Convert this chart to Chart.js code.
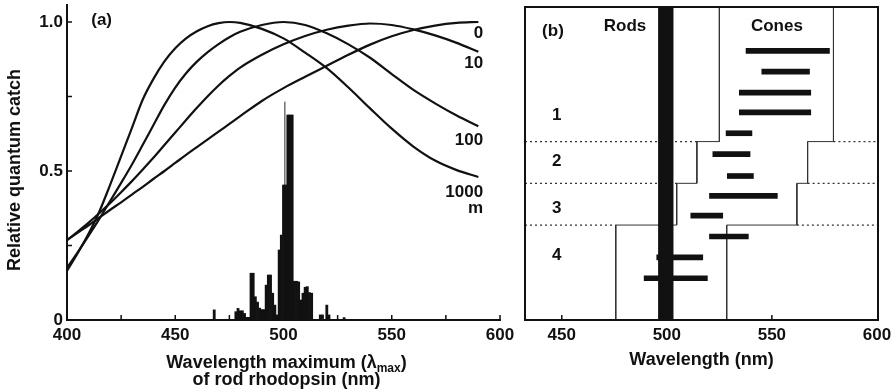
<!DOCTYPE html>
<html>
<head>
<meta charset="utf-8">
<script src="https://cdn.jsdelivr.net/npm/chart.js@4.4.0/dist/chart.umd.min.js"></script>
<style>
  body { margin: 0; background: #fff; }
  #wrapA { position: absolute; left: 0; top: 0; width: 530px; height: 392px; }
  #wrapB { position: absolute; left: 505px; top: 0; width: 390px; height: 392px; }
</style>
</head>
<body>
<div id="wrapA"><canvas id="chartA"></canvas></div>
<div id="wrapB"><canvas id="chartB"></canvas></div>
<script>
// ---- Panel (a): relative quantum catch vs rhodopsin lambda max, per depth ----
const curveNm = [400, 405, 410, 415, 420, 425, 430, 435, 440, 445, 450, 455, 460, 465,
                 470, 475, 480, 490, 500, 510, 520, 530, 540, 550, 560, 570, 580, 590];
const catch0m = [0.268, 0.293, 0.318, 0.344, 0.37, 0.395, 0.421, 0.447, 0.474, 0.5, 0.527, 0.554, 0.58, 0.606,
                 0.632, 0.658, 0.684, 0.735, 0.778, 0.816, 0.853, 0.89, 0.924, 0.952, 0.973, 0.988, 0.997, 1.0];
const catch10m = [0.268, 0.297, 0.327, 0.359, 0.393, 0.429, 0.466, 0.505, 0.545, 0.587, 0.629, 0.671, 0.712, 0.751,
                  0.787, 0.819, 0.847, 0.89, 0.925, 0.953, 0.974, 0.988, 0.995, 0.99, 0.975, 0.955, 0.93, 0.9];
const catch100m = [0.175, 0.228, 0.283, 0.34, 0.40, 0.46, 0.522, 0.588, 0.655, 0.722, 0.78, 0.828, 0.867, 0.899,
                   0.926, 0.949, 0.967, 0.99, 1.0, 0.99, 0.962, 0.925, 0.88, 0.825, 0.772, 0.727, 0.686, 0.65];
const catch1000m = [0.165, 0.225, 0.29, 0.365, 0.455, 0.55, 0.645, 0.74, 0.81, 0.868, 0.912, 0.945, 0.969, 0.986,
                    0.996, 1.0, 0.997, 0.977, 0.945, 0.897, 0.845, 0.78, 0.71, 0.642, 0.582, 0.535, 0.503, 0.48];

// histogram of rod lambda max (1 nm bins, scaled to the same axis)
const histNm = [468, 478, 479, 480, 481, 482, 483, 484, 485, 486, 487, 488, 489, 490, 491, 492, 493, 494,
                495, 496, 497, 498, 499, 500, 501, 502, 503, 504, 505, 506, 507, 508, 509, 510, 511, 512,
                513, 517, 518, 520, 521, 528];
const histValue = [0.034, 0.028, 0.039, 0.031, 0.031, 0.022, 0.009, 0.009, 0.157, 0.157, 0.078, 0.06, 0.04,
                   0.035, 0.035, 0.117, 0.151, 0.151, 0.09, 0.05, 0.017, 0.235, 0.285, 0.453, 0.453, 0.688,
                   0.688, 0.688, 0.13, 0.13, 0.128, 0.067, 0.09, 0.11, 0.112, 0.092, 0.09, 0.017, 0.017,
                   0.05, 0.017, 0.008];
// the thin open bar standing above the main peak
const openBarNm = [501];
const openBarValue = [0.733];

const depthLabels = ['0', '10', '100', '1000', 'm'];
const yTickValues = [0, 0.5, 1.0];

// ---- Panel (b): rod band and cone lambda max ranges, four groups ----
const rodRange = [496, 503];
const coneRows = [12.9, 11.9, 10.9, 9.95, 8.95, 7.95, 6.9, 5.95, 5.0, 4.0, 3.0, 2.0];
const coneStart = [537.7, 545.2, 534.5, 534.5, 528.2, 521.9, 528.8, 520.3, 511.4, 520.3, 495.2, 489.2];
const coneEnd = [577.4, 567.9, 568.5, 568.5, 540.5, 539.6, 541.2, 552.6, 526.6, 538.8, 517.1, 519.3];
const groupLabels = ['1', '2', '3', '4'];
const groupLeft = [525, 514.3, 504.7, 475.7];
const groupRight = [579.3, 567, 561.9, 528.5];
const groupBreaks = [8.55, 6.55, 4.55];
const xTicksB = [450, 500, 550, 600];

const FONT = "'Liberation Sans', Arial, Helvetica, sans-serif";
const INK = '#111';
Chart.defaults.font.family = FONT;
Chart.defaults.font.weight = 'bold';
Chart.defaults.color = INK;

// Build the stepped outline (x,y pairs) from the group edges
function stepOutline(edges) {
    const pts = [{x: edges[0], y: 15}];
    groupBreaks.forEach((b, i) => {
        pts.push({x: edges[i], y: b});
        pts.push({x: edges[i + 1], y: b});
    });
    pts.push({x: edges[edges.length - 1], y: 0});
    return pts;
}

// Dotted group separators, only outside the outlines
function dividerSegments() {
    const pts = [];
    groupBreaks.forEach((b, i) => {
        pts.push({x: 432.5, y: b}, {x: groupLeft[i + 1], y: b}, {x: null, y: null});
        pts.push({x: groupRight[i], y: b}, {x: 600.5, y: b}, {x: null, y: null});
    });
    return pts;
}

function curveDataset(values) {
    return {
        type: 'line',
        data: curveNm.map((x, i) => ({x: x, y: values[i]})),
        borderColor: INK,
        borderWidth: 2.2,
        pointRadius: 0,
        cubicInterpolationMode: 'monotone',
        order: 0
    };
}

// Text, inward ticks and the x title with a subscript for panel (a)
const panelAPlugin = {
    id: 'panelA',
    afterDraw(chart) {
        const {ctx, chartArea, scales: {x, y}} = chart;
        ctx.save();
        ctx.strokeStyle = INK;
        ctx.lineWidth = 1.5;
        ctx.beginPath();
        for (let v = 425; v <= 600; v += 25) {
            const px = x.getPixelForValue(v);
            ctx.moveTo(px, chartArea.bottom);
            ctx.lineTo(px, chartArea.bottom - 5);
        }
        [0.25, 0.5, 0.75, 1.0].forEach(v => {
            const py = y.getPixelForValue(v);
            ctx.moveTo(chartArea.left, py);
            ctx.lineTo(chartArea.left + 5, py);
        });
        ctx.stroke();

        ctx.fillStyle = INK;
        ctx.textBaseline = 'middle';
        ctx.font = 'bold 17px ' + FONT;
        // depth labels at the right end of the curves
        ctx.textAlign = 'right';
        const labelY = [0.963, 0.862, 0.604, 0.43, 0.375];
        depthLabels.forEach((t, i) => {
            ctx.fillText(t, x.getPixelForValue(592.2), y.getPixelForValue(labelY[i]));
        });
        ctx.textAlign = 'center';
        ctx.fillText('(a)', x.getPixelForValue(416), y.getPixelForValue(1.007));

        // y title
        ctx.font = 'bold 18px ' + FONT;
        ctx.save();
        ctx.translate(15, 170);
        ctx.rotate(-Math.PI / 2);
        ctx.fillText('Relative quantum catch', 0, 0);
        ctx.restore();

        // x title, two lines, lambda with subscript "max"
        const cx = (chartArea.left + chartArea.right) / 2 + 3;
        const mainFont = 'bold 18px ' + FONT;
        const subFont = 'bold 12px ' + FONT;
        const part1 = 'Wavelength maximum (\u03bb';
        ctx.font = mainFont;
        const w1 = ctx.measureText(part1).width;
        const w3 = ctx.measureText(')').width;
        ctx.font = subFont;
        const w2 = ctx.measureText('max').width;
        let sx = cx - (w1 + w2 + w3) / 2;
        ctx.textAlign = 'left';
        ctx.font = mainFont;
        ctx.fillText(part1, sx, 363);
        sx += w1;
        ctx.font = subFont;
        ctx.fillText('max', sx, 369);
        sx += w2;
        ctx.font = mainFont;
        ctx.fillText(')', sx, 363);
        ctx.textAlign = 'center';
        ctx.fillText('of rod rhodopsin (nm)', cx, 380);
        ctx.restore();
    }
};

// Frame, ticks and labels for panel (b)
const panelBPlugin = {
    id: 'panelB',
    afterDraw(chart) {
        const {ctx, chartArea, scales: {x, y}} = chart;
        ctx.save();
        ctx.strokeStyle = INK;
        ctx.lineWidth = 2;
        ctx.strokeRect(chartArea.left, chartArea.top, chartArea.right - chartArea.left, chartArea.bottom - chartArea.top);
        ctx.lineWidth = 1.5;
        ctx.beginPath();
        [450, 500, 550].forEach(v => {
            const px = x.getPixelForValue(v);
            ctx.moveTo(px, chartArea.bottom);
            ctx.lineTo(px, chartArea.bottom - 5);
        });
        ctx.stroke();

        ctx.fillStyle = INK;
        ctx.textAlign = 'center';
        ctx.textBaseline = 'middle';
        ctx.font = 'bold 17px ' + FONT;
        ctx.fillText('(b)', x.getPixelForValue(445.8), y.getPixelForValue(13.83));
        ctx.fillText('Rods', x.getPixelForValue(480.1), y.getPixelForValue(14.07));
        ctx.fillText('Cones', x.getPixelForValue(552.4), y.getPixelForValue(14.07));
        const labelRow = [9.83, 7.6, 5.36, 3.12];
        groupLabels.forEach((t, i) => {
            ctx.fillText(t, x.getPixelForValue(447.6), y.getPixelForValue(labelRow[i]));
        });
        ctx.restore();
    }
};

new Chart(document.getElementById('chartA'), {
    type: 'line',
    data: {
        datasets: [
            curveDataset(catch0m),
            curveDataset(catch10m),
            curveDataset(catch100m),
            curveDataset(catch1000m),
            {
                type: 'bar',
                data: histNm.map((x, i) => ({x: x, y: histValue[i]})),
                backgroundColor: INK,
                barPercentage: 1,
                categoryPercentage: 1,
                grouped: false,
                order: 1
            },
            {
                type: 'bar',
                data: openBarNm.map((x, i) => ({x: x, y: openBarValue[i]})),
                backgroundColor: '#fff',
                borderColor: INK,
                borderWidth: {left: 1.5, top: 0, right: 0, bottom: 0},
                barPercentage: 1,
                categoryPercentage: 1,
                grouped: false,
                order: 2
            }
        ]
    },
    options: {
        responsive: true,
        maintainAspectRatio: false,
        animation: false,
        layout: {padding: {top: 5, right: 30, left: 0, bottom: 0}},
        plugins: {legend: {display: false}, tooltip: {enabled: false}},
        scales: {
            x: {
                type: 'linear', min: 400, max: 600, offset: false,
                grid: {display: false, drawTicks: false, offset: false},
                border: {display: true, color: INK, width: 2},
                ticks: {stepSize: 50, padding: 5, maxRotation: 0, color: INK, font: {size: 17, weight: 'bold'}},
                afterFit: s => { s.height = 72; s.paddingLeft = 0; s.paddingRight = 0; }
            },
            y: {
                type: 'linear', min: 0, max: 1.057, offset: false,
                grid: {display: false, drawTicks: false},
                border: {display: true, color: INK, width: 2},
                ticks: {padding: 4, color: INK, font: {size: 17, weight: 'bold'},
                        callback: v => (v === 0 ? '0' : v.toFixed(1))},
                afterBuildTicks: s => { s.ticks = yTickValues.map(v => ({value: v})); },
                afterFit: s => { s.width = 67; s.paddingTop = 0; s.paddingBottom = 0; }
            }
        }
    },
    plugins: [panelAPlugin]
});

new Chart(document.getElementById('chartB'), {
    type: 'bar',
    data: {
        datasets: [
            {
                type: 'bar',
                data: [{y: 7.5, x: rodRange}],
                backgroundColor: INK,
                barThickness: 314,
                grouped: false,
                order: 1
            },
            {
                type: 'bar',
                data: coneRows.map((r, i) => ({y: r, x: [coneStart[i], coneEnd[i]]})),
                backgroundColor: INK,
                barThickness: 5,
                grouped: false,
                order: 0
            },
            {
                type: 'line',
                data: stepOutline(groupLeft),
                borderColor: '#333',
                borderWidth: 1,
                pointRadius: 0,
                order: 2
            },
            {
                type: 'line',
                data: stepOutline(groupRight),
                borderColor: '#333',
                borderWidth: 1,
                pointRadius: 0,
                order: 2
            },
            {
                type: 'line',
                data: dividerSegments(),
                borderColor: '#333',
                borderWidth: 1.3,
                borderDash: [2, 3],
                pointRadius: 0,
                spanGaps: false,
                order: 3
            }
        ]
    },
    options: {
        indexAxis: 'y',
        responsive: true,
        maintainAspectRatio: false,
        animation: false,
        layout: {padding: {top: 7, right: 17, left: 20, bottom: 0}},
        plugins: {legend: {display: false}, tooltip: {enabled: false}},
        scales: {
            x: {
                type: 'linear', min: 432.5, max: 600.5, offset: false,
                grid: {display: false, drawTicks: false},
                border: {display: false},
                ticks: {padding: 5, maxRotation: 0, color: INK, font: {size: 17, weight: 'bold'}},
                afterBuildTicks: s => { s.ticks = xTicksB.map(v => ({value: v})); },
                title: {display: true, text: 'Wavelength (nm)', font: {size: 18, weight: 'bold'}, padding: {top: 0, bottom: 21}},
                afterFit: s => { s.height = 72; s.paddingLeft = 0; s.paddingRight = 0; }
            },
            y: {
                type: 'linear', min: 0, max: 15, offset: false, display: false,
                grid: {display: false}
            }
        }
    },
    plugins: [panelBPlugin]
});
</script>
</body>
</html>
